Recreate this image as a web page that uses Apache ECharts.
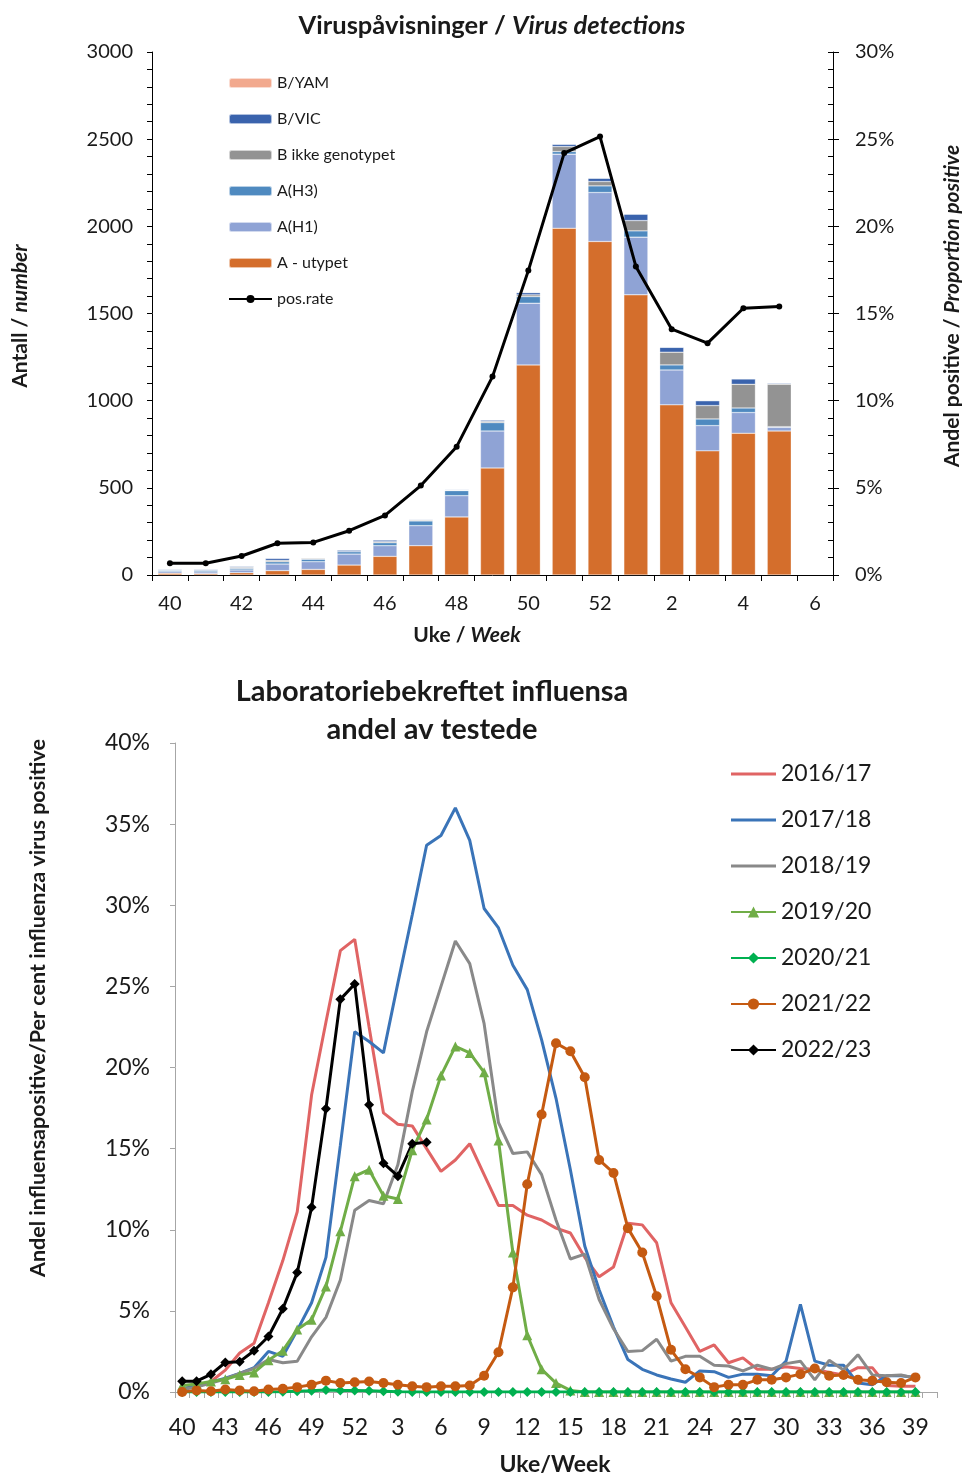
<!DOCTYPE html>
<html>
<head>
<meta charset="utf-8">
<script src="https://cdn.jsdelivr.net/npm/echarts@6/dist/echarts.min.js"></script>
<style>
html,body{margin:0;padding:0;background:#fff;}
#c{width:962px;height:1474px;}
</style>
</head>
<body>
<div id="c"></div>
<script>
// ---------- Top chart data ----------
const topWeeks = ['40','41','42','43','44','45','46','47','48','49','50','51','52','1','2','3','4','5','6'];
const aUtypet = [10, 8, 13, 25, 32, 57, 107, 168, 333, 614, 1205, 1989, 1913, 1607, 976, 712, 813, 826];
const aH1     = [9, 10, 16, 38, 44, 63, 61, 115, 122, 212, 354, 425, 281, 331, 200, 145, 119, 21];
const aH3     = [8, 8, 9, 13, 14, 14, 17, 27, 29, 48, 38, 15, 38, 36, 29, 38, 26, 4];
const bIkke   = [0, 0, 6, 8, 6, 0, 6, 5, 2, 7, 10, 29, 25, 59, 73, 77, 136, 243];
const bVic    = [5, 6, 6, 12, 3, 9, 10, 4, 4, 8, 13, 13, 19, 37, 28, 28, 31, 6];
const bYam    = [0, 0, 0, 0, 0, 0, 0, 0, 0, 0, 0, 0, 0, 0, 0, 0, 0, 0];
const posRate = [0.67, 0.67, 1.09, 1.82, 1.87, 2.54, 3.42, 5.13, 7.36, 11.38, 17.46, 24.2, 25.15, 17.7, 14.1, 13.3, 15.3, 15.4];

// ---------- Bottom chart data ----------
const weeks = ['40','41','42','43','44','45','46','47','48','49','50','51','52',
  '1','2','3','4','5','6','7','8','9','10','11','12','13','14','15','16','17','18','19','20',
  '21','22','23','24','25','26','27','28','29','30','31','32','33','34','35','36','37','38','39',''];
const s1617 = [0.2,0.35,0.65,1.35,2.4,3.0,5.5,8.1,11.1,18.3,22.8,27.2,27.9,22.5,17.2,16.5,16.4,15.0,13.6,14.3,15.3,13.4,11.5,11.5,10.9,10.6,10.1,9.8,8.3,7.1,7.7,10.4,10.3,9.2,5.5,4.0,2.5,2.9,1.8,2.1,1.4,1.4,1.55,1.45,1.4,1.2,1.05,1.5,1.5,0.4,0.35,0.35];
const s1718 = [0.2,0.35,0.6,0.85,1.15,1.5,2.5,2.2,3.8,5.5,8.3,15.2,22.2,21.6,20.9,25.2,29.4,33.7,34.3,36.0,34.0,29.8,28.6,26.3,24.8,21.7,18.1,13.7,9.0,6.3,4.0,2.0,1.4,1.05,0.8,0.6,1.3,1.25,0.9,1.1,1.1,1.0,1.9,5.4,1.9,1.65,1.65,0.55,0.45,1.0,1.0,0.9];
const s1819 = [0.15,0.3,0.55,0.8,1.15,1.45,2.0,1.8,1.9,3.4,4.6,6.9,11.2,11.8,11.6,14.0,18.5,22.2,25.0,27.8,26.4,22.7,16.6,14.7,14.8,13.4,10.6,8.2,8.5,5.7,3.9,2.5,2.55,3.25,1.9,2.2,2.2,1.65,1.6,1.3,1.65,1.4,1.75,1.9,0.75,1.95,1.35,2.3,1.05,1.0,1.05,0.85];
const s1920 = [0.4,0.5,0.65,0.78,1.05,1.2,1.95,2.55,3.85,4.45,6.5,9.9,13.3,13.7,12.1,11.9,14.9,16.8,19.5,21.3,20.9,19.7,15.5,8.6,3.5,1.4,0.55,0.1,0,0,0,0,0,0,0,0,0,0,0,0,0,0,0,0,0,0,0,0,0,0,0,0];
const s2021 = [0,0,0,0,0,0,0,0.02,0.05,0.08,0.12,0.1,0.1,0.08,0.05,0.02,0,0,0,0,0,0,0,0,0,0,0,0,0,0,0,0,0,0,0,0,0,0,0,0,0,0,0,0,0,0,0,0,0,0,0,0];
const s2122 = [0,0.1,0.05,0.15,0.1,0.05,0.15,0.2,0.3,0.45,0.7,0.55,0.6,0.65,0.55,0.45,0.35,0.3,0.35,0.35,0.4,1.0,2.45,6.45,12.8,17.1,21.5,21.0,19.4,14.3,13.5,10.1,8.6,5.9,2.6,1.4,0.9,0.3,0.45,0.45,0.75,0.75,0.9,1.1,1.45,1.0,1.05,0.75,0.7,0.6,0.55,0.9];
const s2223 = [0.67,0.67,1.09,1.82,1.87,2.54,3.42,5.13,7.36,11.38,17.46,24.2,25.15,17.7,14.1,13.3,15.3,15.4];

const FONT = 'Lato, "Open Sans", sans-serif';
const TXT = '#1a1a1a';
const LINE_ICON = 'path://M0,0H45V3H0Z';

const chart = echarts.init(document.getElementById('c'), null, {renderer:'canvas'});

const barStyle = (c) => ({color:c, borderColor:'rgba(255,255,255,0.6)', borderWidth:0.5});

const option = {
  animation:false,
  backgroundColor:'#fff',
  textStyle:{fontFamily:FONT},
  grid:[
    {left:152, top:52, width:681, height:523},
    {left:175, top:743, width:762, height:649}
  ],
  legend:[
    {
      orient:'vertical', left:223, top:69,
      itemWidth:43, itemHeight:10, itemGap:18,
      textStyle:{fontFamily:FONT, fontSize:16, color:TXT, lineHeight:18},
      data:['B/YAM','B/VIC','B ikke genotypet','A(H3)','A(H1)','A - utypet','pos.rate']
    },
    {
      orient:'vertical', left:725, top:756, symbolKeepAspect:true,
      itemWidth:45, itemHeight:14, itemGap:20,
      textStyle:{fontFamily:FONT, fontSize:23, color:TXT, lineHeight:26},
      data:[
        {name:'2016/17', icon:LINE_ICON},
        {name:'2017/18', icon:LINE_ICON},
        {name:'2018/19', icon:LINE_ICON},
        '2019/20','2020/21','2021/22','2022/23'
      ]
    }
  ],
  xAxis:[
    {
      type:'category', gridIndex:0, data:topWeeks, boundaryGap:true,
      axisLine:{lineStyle:{color:'#000', width:1}},
      axisTick:{show:true, length:6, interval:0, lineStyle:{color:'#000'}},
      axisLabel:{interval:1, fontSize:20, color:TXT, margin:19, fontFamily:FONT}
    },
    {
      type:'category', gridIndex:1, data:weeks, boundaryGap:true,
      axisLine:{lineStyle:{color:'#a6a6a6', width:1}},
      axisTick:{show:true, length:6, interval:0, lineStyle:{color:'#a6a6a6'}},
      axisLabel:{interval:2, fontSize:23, color:TXT, margin:24, fontFamily:FONT}
    }
  ],
  yAxis:[
    {
      type:'value', gridIndex:0, min:0, max:3000, interval:500, position:'left',
      axisLine:{show:true, lineStyle:{color:'#000'}},
      axisTick:{show:true, length:5, lineStyle:{color:'#000'}},
      minorTick:{show:true, splitNumber:5, length:5, lineStyle:{color:'#000'}},
      splitLine:{show:false},
      axisLabel:{fontSize:20, color:TXT, margin:19, fontFamily:FONT, formatter:(v)=>String(v)}
    },
    {
      type:'value', gridIndex:0, min:0, max:30, interval:5, position:'right',
      axisLine:{show:true, lineStyle:{color:'#000'}},
      axisTick:{show:true, length:6, lineStyle:{color:'#000'}},
      splitLine:{show:false},
      axisLabel:{fontSize:20, color:TXT, margin:22, formatter:'{value}%', fontFamily:FONT}
    },
    {
      type:'value', gridIndex:0, min:0, max:30, interval:1, position:'right',
      axisLine:{show:false},
      axisTick:{show:true, inside:true, length:5, lineStyle:{color:'#000'}},
      splitLine:{show:false},
      axisLabel:{show:false}
    },
    {
      type:'value', gridIndex:1, min:0, max:40, interval:5,
      axisLine:{show:true, lineStyle:{color:'#a6a6a6'}},
      axisTick:{show:true, length:5, lineStyle:{color:'#a6a6a6'}},
      splitLine:{show:false},
      axisLabel:{fontSize:23, color:TXT, margin:25, formatter:'{value}%', fontFamily:FONT}
    }
  ],
  graphic:[
    {type:'text', x:492, y:26, style:{
      text:'{b|Viruspåvisninger / }{bi|Virus detections}',
      align:'center', verticalAlign:'middle',
      rich:{ b:{fontFamily:FONT, fontSize:25.5, fontWeight:'bold', fill:TXT},
             bi:{fontFamily:FONT, fontSize:25.5, fontWeight:'bold', fontStyle:'italic', fill:TXT} }
    }},
    {type:'text', x:20, y:316, rotation:Math.PI/2, style:{
      text:'{b|Antall / }{bi|number}',
      align:'center', verticalAlign:'middle',
      rich:{ b:{fontFamily:FONT, fontSize:21, fontWeight:'bold', fill:TXT},
             bi:{fontFamily:FONT, fontSize:21, fontWeight:'bold', fontStyle:'italic', fill:TXT} }
    }},
    {type:'text', x:952, y:306, rotation:Math.PI/2, style:{
      text:'{b|Andel positive / }{bi|Proportion positive}',
      align:'center', verticalAlign:'middle',
      rich:{ b:{fontFamily:FONT, fontSize:21, fontWeight:'bold', fill:TXT},
             bi:{fontFamily:FONT, fontSize:21, fontWeight:'bold', fontStyle:'italic', fill:TXT} }
    }},
    {type:'text', x:467, y:635, style:{
      text:'{b|Uke / }{bi|Week}',
      align:'center', verticalAlign:'middle',
      rich:{ b:{fontFamily:FONT, fontSize:21, fontWeight:'bold', fill:TXT},
             bi:{fontFamily:FONT, fontSize:21, fontWeight:'bold', fontStyle:'italic', fill:TXT} }
    }},
    {type:'text', x:432, y:692, style:{
      text:'Laboratoriebekreftet influensa', align:'center', verticalAlign:'middle',
      font:'bold 29px ' + FONT, fill:TXT
    }},
    {type:'text', x:432, y:730, style:{
      text:'andel av testede', align:'center', verticalAlign:'middle',
      font:'bold 29px ' + FONT, fill:TXT
    }},
    {type:'text', x:38, y:1008, rotation:Math.PI/2, style:{
      text:'Andel influensapositive/Per cent influenza virus positive', align:'center', verticalAlign:'middle',
      font:'bold 21.5px ' + FONT, fill:TXT
    }},
    {type:'text', x:555, y:1465, style:{
      text:'Uke/Week', align:'center', verticalAlign:'middle',
      font:'bold 23px ' + FONT, fill:TXT
    }}
  ],
  series:[
    {name:'A - utypet', type:'bar', stack:'v', xAxisIndex:0, yAxisIndex:0, data:aUtypet, barCategoryGap:'33%', itemStyle:barStyle('#D46E2C')},
    {name:'A(H1)', type:'bar', stack:'v', xAxisIndex:0, yAxisIndex:0, data:aH1, itemStyle:barStyle('#8FA3D5')},
    {name:'A(H3)', type:'bar', stack:'v', xAxisIndex:0, yAxisIndex:0, data:aH3, itemStyle:barStyle('#4F8AC0')},
    {name:'B ikke genotypet', type:'bar', stack:'v', xAxisIndex:0, yAxisIndex:0, data:bIkke, itemStyle:barStyle('#939393')},
    {name:'B/VIC', type:'bar', stack:'v', xAxisIndex:0, yAxisIndex:0, data:bVic, itemStyle:barStyle('#3A63AD')},
    {name:'B/YAM', type:'bar', stack:'v', xAxisIndex:0, yAxisIndex:0, data:bYam, itemStyle:barStyle('#F2A98E')},
    {name:'pos.rate', type:'line', xAxisIndex:0, yAxisIndex:1, data:posRate,
      symbol:'circle', symbolSize:6, showAllSymbol:true, lineStyle:{color:'#000', width:3}, itemStyle:{color:'#000'}, z:5},

    {name:'2016/17', type:'line', xAxisIndex:1, yAxisIndex:3, data:s1617, showSymbol:false, symbol:'none',
      lineStyle:{color:'#E06464', width:3}, itemStyle:{color:'#E06464'}},
    {name:'2017/18', type:'line', xAxisIndex:1, yAxisIndex:3, data:s1718, showSymbol:false, symbol:'none',
      lineStyle:{color:'#3A74B8', width:3}, itemStyle:{color:'#3A74B8'}},
    {name:'2018/19', type:'line', xAxisIndex:1, yAxisIndex:3, data:s1819, showSymbol:false, symbol:'none',
      lineStyle:{color:'#898989', width:3}, itemStyle:{color:'#898989'}},
    {name:'2019/20', type:'line', xAxisIndex:1, yAxisIndex:3, data:s1920, symbol:'triangle', symbolSize:10, showAllSymbol:true,
      lineStyle:{color:'#70AD47', width:3}, itemStyle:{color:'#70AD47'}},
    {name:'2020/21', type:'line', xAxisIndex:1, yAxisIndex:3, data:s2021, symbol:'diamond', symbolSize:10, showAllSymbol:true,
      lineStyle:{color:'#00B050', width:3}, itemStyle:{color:'#00B050'}},
    {name:'2021/22', type:'line', xAxisIndex:1, yAxisIndex:3, data:s2122, symbol:'circle', symbolSize:10, showAllSymbol:true,
      lineStyle:{color:'#C55A11', width:3}, itemStyle:{color:'#C55A11'}},
    {name:'2022/23', type:'line', xAxisIndex:1, yAxisIndex:3, data:s2223, symbol:'diamond', symbolSize:10, showAllSymbol:true,
      lineStyle:{color:'#000000', width:3}, itemStyle:{color:'#000000'}}
  ]
};
chart.setOption(option);
</script>
</body>
</html>
